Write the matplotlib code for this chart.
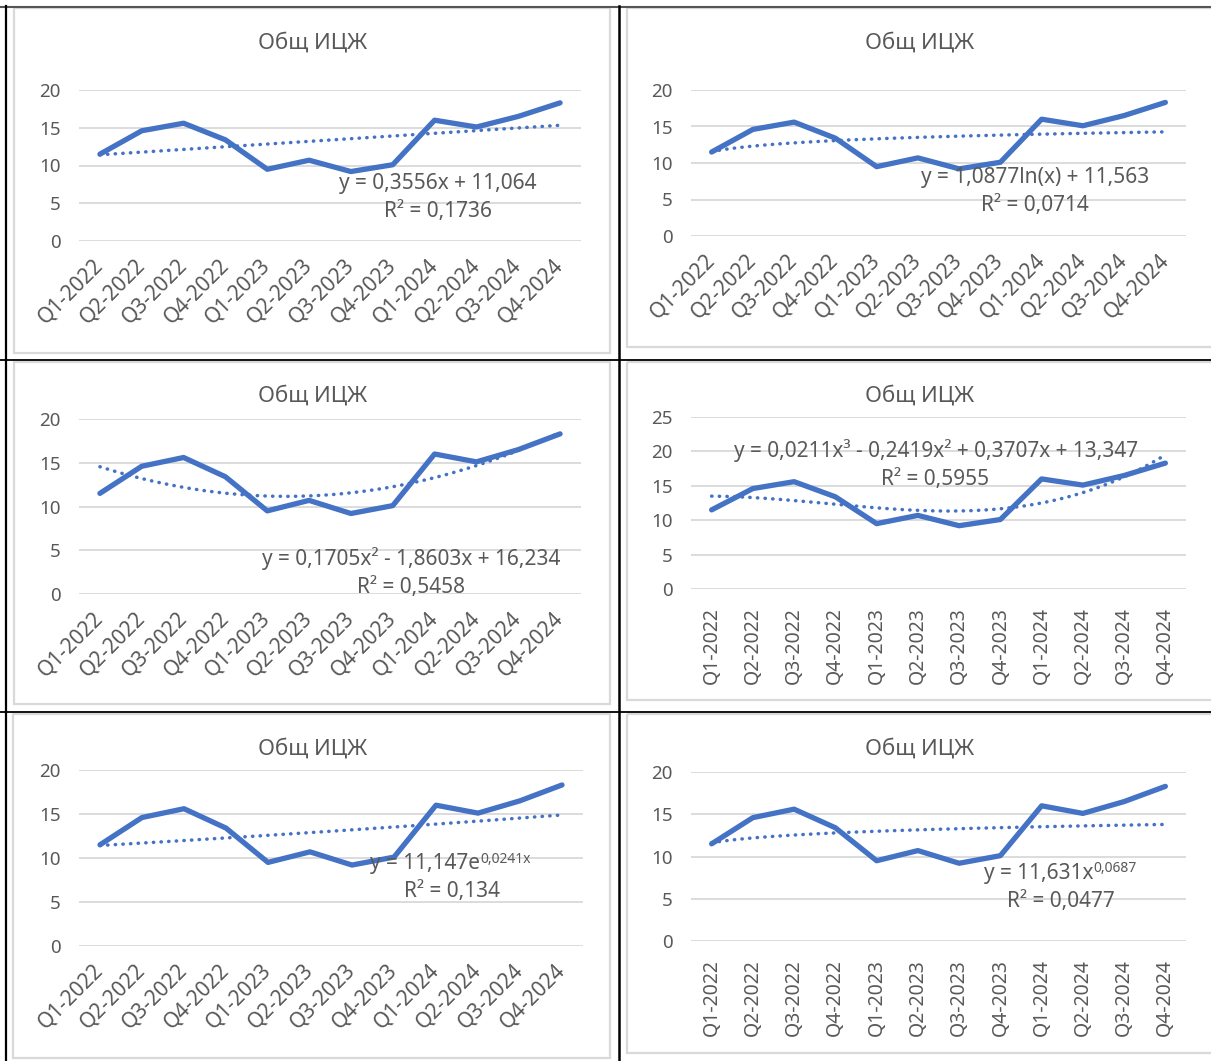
import numpy as np
import matplotlib.pyplot as plt
from matplotlib.patches import Rectangle

plt.rcParams['font.family'] = ['Noto Sans', 'DejaVu Sans']

# data
quarters = ["Q1-2022", "Q2-2022", "Q3-2022", "Q4-2022",
            "Q1-2023", "Q2-2023", "Q3-2023", "Q4-2023",
            "Q1-2024", "Q2-2024", "Q3-2024", "Q4-2024"]
values = [11.5, 14.6, 15.6, 13.4, 9.5, 10.7, 9.2, 10.1, 16.0, 15.1, 16.5, 18.3]
chart_title = "Общ ИЦЖ"

trend_kinds = ["linear", "log", "poly2", "poly3", "exp", "power"]
eq_labels = ["y = 0,3556x + 11,064",
             "y = 1,0877ln(x) + 11,563",
             "y = 0,1705x² - 1,8603x + 16,234",
             "y = 0,0211x³ - 0,2419x² + 0,3707x + 13,347",
             "y = 11,147e",
             "y = 11,631x"]
eq_sups = ["", "", "", "", "0,0241x", "0,0687"]
r2_labels = ["R² = 0,1736", "R² = 0,0714", "R² = 0,5458",
             "R² = 0,5955", "R² = 0,134", "R² = 0,0477"]
y_max = [20, 20, 20, 25, 20, 20]
label_rot = [45, 45, 45, 90, 45, 90]

# layout in pixels (left, top, right, bottom) of each plot area
W, H = 1211, 1061
plot_boxes = [(79, 90, 581, 241), (691, 90, 1186, 236),
              (79, 419, 581, 594), (691, 417, 1186, 589),
              (79, 770, 583, 946), (691, 772, 1186, 941)]
title_pos = [(313, 43), (920, 43), (313, 396), (920, 396), (313, 749), (920, 749)]
# (x, y, ha) of equation line, (x, y) of R2 line
eq_pos = [(438, 183, 'center'), (1035, 178, 'center'), (411, 559, 'center'),
          (936, 451, 'center'), (370, 864, 'left'), (984, 873, 'left')]
r2_pos = [(438, 211), (1035, 206), (411, 587), (935, 479), (452, 892), (1061, 901)]
chart_frames = [(14, 8, 610, 353), (627, 8, 1215, 347),
                (14, 362, 610, 704), (627, 362, 1215, 700),
                (13, 714, 610, 1058), (627, 714, 1215, 1053)]

blue = "#4472C4"
gray_txt = "#595959"
grid_c = "#D9D9D9"

x = np.arange(1, len(values) + 1)
y = np.array(values)


def trend(kind, xs):
    if kind == "linear":
        return np.polyval(np.polyfit(x, y, 1), xs)
    if kind == "log":
        a, b = np.polyfit(np.log(x), y, 1)
        return a * np.log(xs) + b
    if kind == "poly2":
        return np.polyval(np.polyfit(x, y, 2), xs)
    if kind == "poly3":
        return np.polyval(np.polyfit(x, y, 3), xs)
    if kind == "exp":
        b, a = np.polyfit(x, np.log(y), 1)
        return np.exp(a) * np.exp(b * xs)
    if kind == "power":
        b, a = np.polyfit(np.log(x), np.log(y), 1)
        return np.exp(a) * xs ** b


def px(xp, yp):
    return xp / W, 1 - yp / H


fig = plt.figure(figsize=(W / 100, H / 100), dpi=100)

# background: table grid and chart frames in pixel coords
bg = fig.add_axes([0, 0, 1, 1], zorder=0)
bg.set_xlim(0, W)
bg.set_ylim(H, 0)
bg.axis('off')
for (l, t, r, b) in chart_frames:
    bg.add_patch(Rectangle((l, t), r - l, b - t, fill=False, ec="#D9D9D9", lw=1.6))
bg.plot([0, W], [6.5, 6.5], color="#555555", lw=1.5)
bg.plot([5.5, 5.5], [6, H], color="black", lw=1.6)
bg.plot([618.8, 618.8], [6, H], color="black", lw=1.8)
bg.plot([0, W], [359.5, 359.5], color="black", lw=1.3)
bg.plot([0, W], [711.5, 711.5], color="black", lw=1.3)

xs = np.linspace(1, 12, 200)
for i in range(6):
    l, t, r, b = plot_boxes[i]
    ax = fig.add_axes([l / W, 1 - b / H, (r - l) / W, (b - t) / H], zorder=1)
    ax.set_facecolor('none')
    ax.plot(x - 1, y, color=blue, lw=3.8, solid_capstyle='round', solid_joinstyle='round', zorder=3)
    ax.plot(xs - 1, trend(trend_kinds[i], xs), color=blue, lw=2.5,
            linestyle=(0, (0.1, 2.1)), dash_capstyle='round', zorder=2)
    ax.set_xlim(-0.5, 11.5)
    ax.set_ylim(0, y_max[i])
    ax.set_yticks(np.arange(0, y_max[i] + 1, 5))
    ax.grid(axis='y', color=grid_c, lw=1.3)
    ax.set_axisbelow(True)
    for s in ax.spines.values():
        s.set_visible(False)
    ax.tick_params(axis='both', length=0, labelcolor=gray_txt)
    ax.tick_params(axis='y', pad=13, labelsize=13.5)
    ax.set_xticks(x - 1)
    if label_rot[i] == 45:
        ax.set_xticklabels(quarters, rotation=45, ha='right', va='center',
                           rotation_mode='anchor', fontsize=15)
        ax.tick_params(axis='x', pad=15)
    else:
        ax.set_xticklabels(quarters, rotation=90, ha='right', va='center',
                           rotation_mode='anchor', fontsize=14)
        ax.tick_params(axis='x', pad=13)

    tx, ty = title_pos[i]
    fig.text(*px(tx, ty), chart_title, ha='center', va='center', fontsize=16, color=gray_txt)
    ex, ey, eha = eq_pos[i]
    t1 = fig.text(*px(ex, ey), eq_labels[i], ha=eha, va='center', fontsize=15,
                  color=gray_txt, zorder=5)
    if eq_sups[i]:
        fig.add_artist(plt.Annotation(eq_sups[i], xy=(1, 1.08), xycoords=t1, ha='left', va='top',
                                      fontsize=10, color=gray_txt, zorder=5))
    rx, ry = r2_pos[i]
    fig.text(*px(rx, ry), r2_labels[i], ha='center', va='center', fontsize=15,
             color=gray_txt, zorder=5)

fig.savefig("out.png", dpi=100)
